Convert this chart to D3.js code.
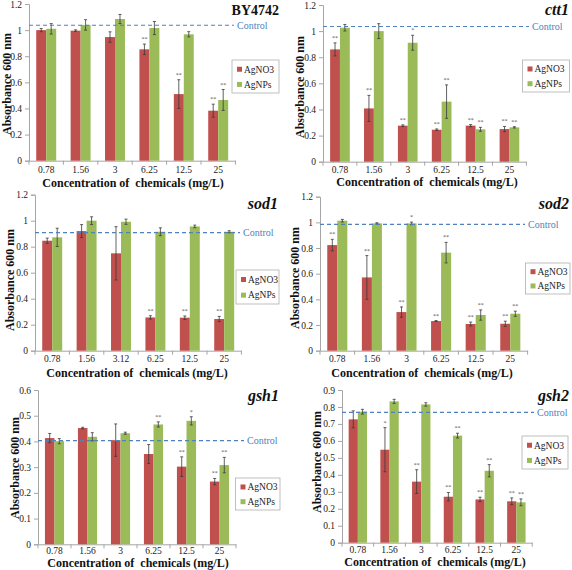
<!DOCTYPE html>
<html>
<head>
<meta charset="utf-8">
<script src="https://cdn.jsdelivr.net/npm/d3@7"></script>
<style>
  html, body { margin: 0; padding: 0; background: #fff; }
  svg { display: block; }
  svg text { font-family: "Liberation Serif", "Times New Roman", Times, "DejaVu Serif", serif; }
  .xlab { white-space: pre; }
</style>
</head>
<body>
<svg id="chart" width="572" height="570"></svg>
<script>
// ---------------- DATA ----------------
const seriesNames = ["AgNO3", "AgNPs"];
const concentrations = ["0.78", "1.56", "3", "6.25", "12.5", "25"];
const concentrationsSod1 = ["0.78", "1.56", "3.12", "6.25", "12.5", "25"];
const ticks12 = [0, 0.2, 0.4, 0.6, 0.8, 1, 1.2];
const ticks06 = [0, 0.1, 0.2, 0.3, 0.4, 0.5, 0.6];
const ticks09 = [0, 0.1, 0.2, 0.3, 0.4, 0.5, 0.6, 0.7, 0.8, 0.9];

// BY4742
const by4742AgNO3 = [1.00, 0.996, 0.947, 0.853, 0.51, 0.383];
const by4742AgNO3Err = [0.012, 0.006, 0.04, 0.04, 0.11, 0.05];
const by4742AgNPs = [1.01, 1.04, 1.085, 1.016, 0.968, 0.465];
const by4742AgNPsErr = [0.04, 0.04, 0.035, 0.05, 0.02, 0.08];
const by4742SigNO3 = ["", "", "", "**", "**", "**"];
const by4742SigNPs = ["", "", "", "", "", "**"];
const by4742Control = 1.037;

// ctt1
const ctt1AgNO3 = [0.86, 0.408, 0.276, 0.245, 0.276, 0.25];
const ctt1AgNO3Err = [0.05, 0.1, 0.006, 0.006, 0.008, 0.02];
const ctt1AgNPs = [1.026, 1.0, 0.911, 0.46, 0.248, 0.263];
const ctt1AgNPsErr = [0.025, 0.057, 0.057, 0.128, 0.015, 0.005];
const ctt1SigNO3 = ["**", "**", "**", "**", "**", "**"];
const ctt1SigNPs = ["", "", "*", "**", "**", "**"];
const ctt1Control = 1.035;

// sod1
const sod1AgNO3 = [0.846, 0.92, 0.749, 0.256, 0.254, 0.244];
const sod1AgNO3Err = [0.02, 0.05, 0.205, 0.013, 0.013, 0.02];
const sod1AgNPs = [0.872, 1.0, 0.992, 0.915, 0.956, 0.915];
const sod1AgNPsErr = [0.07, 0.03, 0.02, 0.03, 0.01, 0.008];
const sod1SigNO3 = ["", "", "", "**", "**", "**"];
const sod1SigNPs = ["", "", "", "", "", ""];
const sod1Control = 0.908;

// sod2
const sod2AgNO3 = [0.823, 0.571, 0.301, 0.231, 0.208, 0.21];
const sod2AgNO3Err = [0.045, 0.17, 0.04, 0.004, 0.015, 0.02];
const sod2AgNPs = [1.013, 0.992, 0.992, 0.764, 0.278, 0.288];
const sod2AgNPsErr = [0.01, 0.005, 0.01, 0.08, 0.04, 0.02];
const sod2SigNO3 = ["**", "**", "**", "**", "**", "**"];
const sod2SigNPs = ["", "", "*", "**", "**", "**"];
const sod2Control = 0.984;

// gsh1
const gsh1AgNO3 = [0.413, 0.452, 0.405, 0.351, 0.302, 0.244];
const gsh1AgNO3Err = [0.018, 0.003, 0.063, 0.037, 0.038, 0.012];
const gsh1AgNPs = [0.401, 0.418, 0.432, 0.466, 0.48, 0.308];
const gsh1AgNPsErr = [0.01, 0.016, 0.004, 0.01, 0.016, 0.03];
const gsh1SigNO3 = ["", "", "", "", "**", "**"];
const gsh1SigNPs = ["", "", "", "**", "*", "**"];
const gsh1Control = 0.403;

// gsh2
const gsh2AgNO3 = [0.727, 0.548, 0.36, 0.271, 0.255, 0.244];
const gsh2AgNO3Err = [0.05, 0.13, 0.07, 0.025, 0.013, 0.02];
const gsh2AgNPs = [0.772, 0.833, 0.815, 0.631, 0.424, 0.238];
const gsh2AgNPsErr = [0.014, 0.012, 0.01, 0.014, 0.036, 0.02];
const gsh2SigNO3 = ["", "*", "**", "**", "**", "**"];
const gsh2SigNPs = ["", "", "", "**", "**", "**"];
const gsh2Control = 0.768;

const panelTitles = ["BY4742", "ctt1", "sod1", "sod2", "gsh1", "gsh2"];
const yAxisLabel = "Absorbance 600 nm";
const xAxisLabel = "Concentration of  chemicals (mg/L)";
const controlLabel = "Control";

// ---------------- LAYOUT (positions only) ----------------
const layouts = [
  { x0: 29,  band: 34.4, yB: 160.7, yT: 4,     tickPad: 6, titleX: 279, titleY: 15,  ctrlX: 237, leg: [232, 60, 47, 33],   ylX: 7,   ylY: 84,  xlX: 133, xlY: 187, italic: false },
  { x0: 323, band: 33.9, yB: 161.7, yT: 5,     tickPad: 5, titleX: 569, titleY: 15,  ctrlX: 532, leg: [522.5, 60, 47, 32], ylX: 300, ylY: 87,  xlX: 427, xlY: 186, italic: true },
  { x0: 35,  band: 34.4, yB: 350.7, yT: 194.7, tickPad: 5, titleX: 278, titleY: 209, ctrlX: 243, leg: [236, 270, 43, 34],  ylX: 10,  ylY: 280, xlX: 137, xlY: 377, italic: true },
  { x0: 320, band: 34.6, yB: 350.7, yT: 196.7, tickPad: 5, titleX: 569, titleY: 209, ctrlX: 528, leg: [525.5, 263, 44.5, 31], ylX: 295, ylY: 278, xlX: 422, xlY: 377, italic: true },
  { x0: 38,  band: 33,   yB: 544.3, yT: 390,   tickPad: 3, titleX: 279, titleY: 401, ctrlX: 247, leg: [235.5, 478, 44.5, 32], ylX: 15,  ylY: 468, xlX: 138, xlY: 567, italic: true },
  { x0: 342, band: 31.7, yB: 542.7, yT: 390,   tickPad: 4, titleX: 569, titleY: 401, ctrlX: 537, leg: [522, 436, 46, 33],  ylX: 317, ylY: 462, xlX: 435, xlY: 566, italic: true }
];

const panels = [
  { cats: concentrations, ticks: ticks12, vals: [by4742AgNO3, by4742AgNPs], errs: [by4742AgNO3Err, by4742AgNPsErr], sig: [by4742SigNO3, by4742SigNPs], control: by4742Control },
  { cats: concentrations, ticks: ticks12, vals: [ctt1AgNO3, ctt1AgNPs], errs: [ctt1AgNO3Err, ctt1AgNPsErr], sig: [ctt1SigNO3, ctt1SigNPs], control: ctt1Control },
  { cats: concentrationsSod1, ticks: ticks12, vals: [sod1AgNO3, sod1AgNPs], errs: [sod1AgNO3Err, sod1AgNPsErr], sig: [sod1SigNO3, sod1SigNPs], control: sod1Control },
  { cats: concentrations, ticks: ticks12, vals: [sod2AgNO3, sod2AgNPs], errs: [sod2AgNO3Err, sod2AgNPsErr], sig: [sod2SigNO3, sod2SigNPs], control: sod2Control },
  { cats: concentrations, ticks: ticks06, vals: [gsh1AgNO3, gsh1AgNPs], errs: [gsh1AgNO3Err, gsh1AgNPsErr], sig: [gsh1SigNO3, gsh1SigNPs], control: gsh1Control },
  { cats: concentrations, ticks: ticks09, vals: [gsh2AgNO3, gsh2AgNPs], errs: [gsh2AgNO3Err, gsh2AgNPsErr], sig: [gsh2SigNO3, gsh2SigNPs], control: gsh2Control }
];

const colors = d3.scaleOrdinal().domain(seriesNames).range(["#c0504d", "#9bbb59"]);
const svg = d3.select("#chart");

panels.forEach((p, i) => {
  const L = layouts[i];
  const g = svg.append("g");
  const x = d3.scaleBand().domain(p.cats).range([L.x0, L.x0 + L.band * p.cats.length]);
  const xs = d3.scaleBand().domain(seriesNames).range([x.bandwidth() * 0.21, x.bandwidth() * 0.79]);
  const ymax = p.ticks[p.ticks.length - 1];
  const y = d3.scaleLinear().domain([0, ymax]).range([L.yB, L.yT]);

  // y axis
  const ya = g.append("g").attr("transform", `translate(${L.x0},0)`)
    .call(d3.axisLeft(y).tickValues(p.ticks).tickFormat(d3.format("~g")).tickSize(4).tickPadding(3));
  ya.attr("font-family", null);
  ya.select(".domain").attr("stroke", "#a6a6a6");
  ya.selectAll(".tick line").attr("stroke", "#a6a6a6");
  ya.selectAll("text").attr("font-size", 9.5).attr("fill", "#222");

  // x axis
  const xa = g.append("g").attr("transform", `translate(0,${L.yB})`)
    .call(d3.axisBottom(x).tickSize(0).tickPadding(L.tickPad).tickSizeOuter(0));
  xa.attr("font-family", null);
  xa.select(".domain").attr("stroke", "#a6a6a6");
  xa.selectAll("text").attr("font-size", 9.5).attr("fill", "#222");
  // boundary ticks between categories
  const bounds = p.cats.map(c => x(c)).concat([x.range()[1]]);
  g.append("g").selectAll("line").data(bounds).join("line")
    .attr("x1", d => d).attr("x2", d => d)
    .attr("y1", L.yB).attr("y2", L.yB + 4)
    .attr("stroke", "#a6a6a6");

  // bars
  seriesNames.forEach((s, si) => {
    const gs = g.append("g");
    gs.selectAll("rect").data(p.cats).join("rect")
      .attr("x", c => x(c) + xs(s))
      .attr("width", xs.bandwidth())
      .attr("y", (c, k) => y(p.vals[si][k]))
      .attr("height", (c, k) => y(0) - y(p.vals[si][k]))
      .attr("fill", colors(s));
    // error bars
    const eg = gs.append("g").attr("stroke", "#3a3a3a").attr("stroke-width", 0.8);
    p.cats.forEach((c, k) => {
      const cx = x(c) + xs(s) + xs.bandwidth() / 2;
      const v = p.vals[si][k], e = p.errs[si][k];
      eg.append("line").attr("x1", cx).attr("x2", cx).attr("y1", y(v - e)).attr("y2", y(v + e));
      eg.append("line").attr("x1", cx - 1.5).attr("x2", cx + 1.5).attr("y1", y(v - e)).attr("y2", y(v - e));
      eg.append("line").attr("x1", cx - 1.5).attr("x2", cx + 1.5).attr("y1", y(v + e)).attr("y2", y(v + e));
      const sg = p.sig[si][k];
      if (sg) {
        gs.append("text").attr("x", cx).attr("y", y(v + e) - 3)
          .attr("text-anchor", "middle")
          .attr("font-size", 6).attr("fill", "#555").text(sg);
      }
    });
  });

  // control line
  g.append("line")
    .attr("x1", L.x0).attr("x2", L.ctrlX - 3)
    .attr("y1", y(p.control)).attr("y2", y(p.control))
    .attr("stroke", "#4f81bd").attr("stroke-width", 1.1).attr("stroke-dasharray", "4,3");
  g.append("text").attr("x", L.ctrlX).attr("y", y(p.control)).attr("dy", "0.35em")
    .attr("font-size", 10).attr("fill", "#4f81bd").text(controlLabel);

  // title
  g.append("text").attr("x", L.titleX).attr("y", L.titleY).attr("text-anchor", "end")
    .attr("font-weight", "bold")
    .attr("font-style", L.italic ? "italic" : "normal")
    .attr("font-size", L.italic ? 16 : 14).attr("fill", "#111").text(panelTitles[i]);

  // legend
  const [lx, ly, lw, lh] = L.leg;
  const lg = g.append("g");
  lg.append("rect").attr("x", lx).attr("y", ly).attr("width", lw).attr("height", lh)
    .attr("fill", "#fff").attr("stroke", "#b0b0b0").attr("stroke-width", 0.8);
  seriesNames.forEach((s, si) => {
    const cy = ly + lh * (si === 0 ? 0.28 : 0.74);
    lg.append("rect").attr("x", lx + 5).attr("y", cy - 2.5).attr("width", 5).attr("height", 5).attr("fill", colors(s));
    lg.append("text").attr("x", lx + 12).attr("y", cy).attr("dy", "0.35em")
      .attr("font-size", 9.5).attr("fill", "#222").text(s);
  });

  // axis labels
  g.append("text").attr("transform", `translate(${L.ylX},${L.ylY}) rotate(-90)`)
    .attr("text-anchor", "middle").attr("dy", "0.35em")
    .attr("font-weight", "bold").attr("font-size", 12).attr("fill", "#111")
    .text(yAxisLabel);
  g.append("text").attr("class", "xlab").attr("x", L.xlX).attr("y", L.xlY).attr("text-anchor", "middle")
    .attr("font-weight", "bold").attr("font-size", 12).attr("fill", "#111")
    .text(xAxisLabel);
});
</script>
</body>
</html>
